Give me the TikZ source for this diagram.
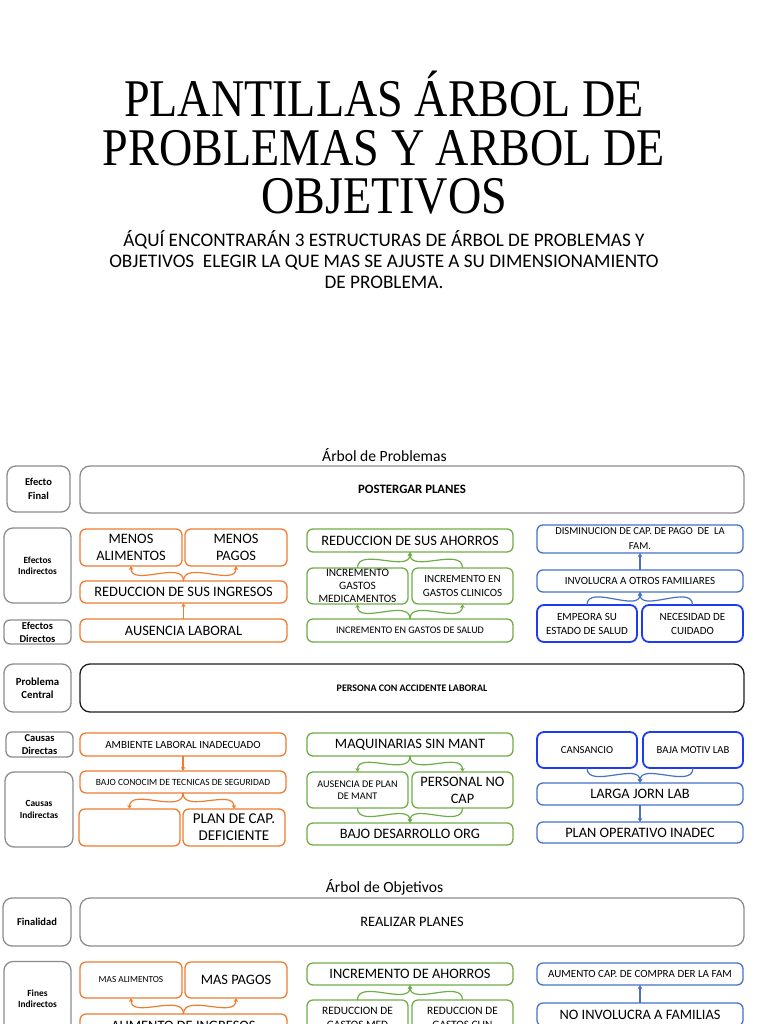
\documentclass[tikz,border=0pt]{standalone}
\usepackage{fontspec}
\setmainfont{Carlito}
\newfontfamily\titlefont[FakeStretch=0.87]{Liberation Serif}
\usetikzlibrary{arrows.meta}
\definecolor{org}{HTML}{ED7D31}
\definecolor{grn}{HTML}{70AD47}
\definecolor{blu}{HTML}{4472C4}
\definecolor{bblu}{HTML}{1E3CF0}
\definecolor{lgray}{HTML}{8C8C8C}
\definecolor{dgray}{HTML}{1E1E1E}
\begin{document}
\begin{tikzpicture}[x=1pt,y=-1pt,
  every node/.style={inner sep=0pt, outer sep=0pt, align=center},
  lab/.style={draw=lgray, rounded corners=9pt, line width=1.3pt},
  big/.style={draw=lgray, rounded corners=10pt, line width=1.3pt, minimum width=664pt},
  ob/.style={draw=org, rounded corners=6pt, line width=1.3pt},
  gb/.style={draw=grn, rounded corners=6pt, line width=1.3pt},
  bb/.style={draw=blu, rounded corners=6pt, line width=1.3pt},
  bbb/.style={draw=bblu, rounded corners=7pt, line width=1.8pt},
  half/.style={minimum width=101pt, minimum height=36pt},
  full/.style={minimum width=206pt, minimum height=22pt},
  fA/.style={font=\fontsize{14.4}{17}\selectfont},
  fS/.style={font=\fontsize{11}{14}\selectfont},
  fL/.style={font=\bfseries\fontsize{9.4}{11}\selectfont},
  fM/.style={font=\bfseries\fontsize{10.5}{13}\selectfont},
  arr/.style={line width=1.2pt, -{Stealth[length=4pt,width=4.5pt]}},
]
\clip (0,0) rectangle (768,1024);
\fill[white] (0,0) rectangle (768,1024);

% ---------- title ----------
\node[font=\titlefont\fontsize{53}{53}\selectfont, anchor=base] (t1) at (384,117) {PLANTILLAS ÁRBOL DE};
\node[font=\titlefont\fontsize{53}{53}\selectfont, anchor=base] (t2) at (384,165.5) {PROBLEMAS Y ARBOL DE};
\node[font=\titlefont\fontsize{53}{53}\selectfont, anchor=base] (t3) at (384,214) {OBJETIVOS};
\node[font=\fontsize{19.2}{21}\selectfont, anchor=base] (s1) at (384,246.5) {ÁQUÍ ENCONTRARÁN 3 ESTRUCTURAS DE ÁRBOL DE PROBLEMAS Y};
\node[font=\fontsize{19.2}{21}\selectfont, anchor=base] (s2) at (384,267) {OBJETIVOS\ \ ELEGIR LA QUE MAS SE AJUSTE A SU DIMENSIONAMIENTO};
\node[font=\fontsize{19.2}{21}\selectfont, anchor=base] (s3) at (384,288) {DE PROBLEMA.};

% ---------- Arbol de Problemas ----------
\node[font=\fontsize{15.6}{18}\selectfont] (hp) at (384.5,455) {Árbol de Problemas};

\node[lab, minimum width=63pt, minimum height=46pt, font=\bfseries\fontsize{10.5}{14}\selectfont] (lEF) at (38.5,489) {Efecto\\Final};
\node[lab, minimum width=67pt, minimum height=75pt, fL] (lEI) at (37.5,565.5) {Efectos\\Indirectos};
\node[lab, rounded corners=6pt, minimum width=67pt, minimum height=24pt, fM] (lED) at (37.5,632) {Efectos\\Directos};
\node[lab, minimum width=67pt, minimum height=48pt, font=\bfseries\fontsize{10.8}{12.5}\selectfont] (lPC) at (37.5,688) {Problema\\Central};
\node[lab, rounded corners=6pt, minimum width=67pt, minimum height=25pt, fM] (lCD) at (39.5,744.5) {Causas\\Directas};
\node[lab, minimum width=68pt, minimum height=75pt, font=\bfseries\fontsize{9.4}{12}\selectfont] (lCI) at (39,809.5) {Causas\\Indirectas};

\node[big, minimum height=47pt, font=\bfseries\fontsize{12.8}{15}\selectfont] (bEF) at (412,489.5) {POSTERGAR PLANES};
\node[big, draw=dgray, minimum height=48pt, font=\bfseries\fontsize{10}{12}\selectfont] (bPC) at (412,688) {PERSONA CON ACCIDENTE LABORAL};

% effects - orange
\node[ob, minimum width=102pt, minimum height=37pt, fA] (oMA) at (131,547.5) {MENOS\\ALIMENTOS};
\node[ob, minimum width=102pt, minimum height=37pt, fA] (oMP) at (236,547.5) {MENOS\\PAGOS};
\node[ob, full, minimum width=207pt, fA] (oRI) at (183.5,592) {REDUCCION DE SUS INGRESOS};
\node[ob, full, minimum width=207pt, minimum height=23pt, fA] (oAL) at (183.5,630.5) {AUSENCIA LABORAL};
\draw[org, arr] (oRI.north) to[out=90,in=-90] (oMA.south);
\draw[org, arr] (oRI.north) to[out=90,in=-90] (oMP.south);
\draw[org, arr] (oAL.north) -- (oRI.south);

% effects - green
\node[gb, full, minimum height=23pt, fA] (gRA) at (410,540.5) {REDUCCION DE SUS AHORROS};
\node[gb, half, font=\fontsize{11.3}{13}\selectfont] (gGM) at (357.5,586) {INCREMENTO\\GASTOS\\MEDICAMENTOS};
\node[gb, half, fS] (gGC) at (462.5,586) {INCREMENTO EN\\GASTOS CLINICOS};
\node[gb, full, minimum height=23pt, font=\fontsize{10.1}{12}\selectfont] (gGS) at (410,630.5) {INCREMENTO EN GASTOS DE SALUD};
\draw[grn, arr] (gGM.north) to[out=90,in=-90] (gRA.south);
\draw[grn, arr] (gGC.north) to[out=90,in=-90] (gRA.south);
\draw[grn, arr] (gGS.north) to[out=90,in=-90] (gGM.south);
\draw[grn, arr] (gGS.north) to[out=90,in=-90] (gGC.south);

% effects - blue
\node[bb, full, minimum height=28pt, font=\fontsize{10.6}{15}\selectfont] (bDC) at (640,539) {DISMINUCION DE CAP. DE PAGO\ \ DE\ \ LA\\FAM.};
\node[bb, full, font=\fontsize{11}{13}\selectfont] (bIO) at (640,581) {INVOLUCRA A OTROS FAMILIARES};
\node[bbb, minimum width=100pt, minimum height=37pt, fS] (bES) at (587,623.5) {EMPEORA SU\\ESTADO DE SALUD};
\node[bbb, minimum width=101pt, minimum height=37pt, fS] (bNC) at (692.5,623.5) {NECESIDAD DE\\CUIDADO};
\draw[blu, arr] (bIO.north) -- (bDC.south);
\draw[blu, arr] (bES.north) to[out=90,in=-90] (bIO.south);
\draw[blu, arr] (bNC.north) to[out=90,in=-90] (bIO.south);

% causes - orange
\node[ob, full, minimum height=23pt, font=\fontsize{11}{13}\selectfont] (oAI) at (183,744.5) {AMBIENTE LABORAL INADECUADO};
\node[ob, full, font=\fontsize{9.5}{11}\selectfont] (oBC) at (183,782) {BAJO CONOCIM DE TECNICAS DE SEGURIDAD};
\node[ob, half, minimum height=37pt] (oE) at (129.5,827.5) {};
\node[ob, minimum width=102pt, minimum height=37pt, font=\fontsize{15}{17}\selectfont] (oPC) at (234,827.5) {PLAN DE CAP.\\DEFICIENTE};
\draw[org, arr] (oAI.south) -- (oBC.north);
\draw[org, arr] (oBC.south) to[out=-90,in=90] (oE.north);
\draw[org, arr] (oBC.south) to[out=-90,in=90] (oPC.north);

% causes - green
\node[gb, full, minimum height=23pt, fA] (gMS) at (410,744.5) {MAQUINARIAS SIN MANT};
\node[gb, half, font=\fontsize{10.2}{11.5}\selectfont] (gAP) at (357.5,790) {AUSENCIA DE PLAN\\DE MANT};
\node[gb, half, fA] (gPN) at (462.5,790) {PERSONAL NO\\CAP};
\node[gb, full, fA] (gDO) at (410,834) {BAJO DESARROLLO ORG};
\draw[grn, arr] (gMS.south) to[out=-90,in=90] (gAP.north);
\draw[grn, arr] (gMS.south) to[out=-90,in=90] (gPN.north);
\draw[grn, arr] (gAP.south) to[out=-90,in=90] (gDO.north);
\draw[grn, arr] (gPN.south) to[out=-90,in=90] (gDO.north);

% causes - blue
\node[bbb, minimum width=100pt, minimum height=36pt, font=\fontsize{10.7}{13}\selectfont] (bCA) at (587,750) {CANSANCIO};
\node[bbb, minimum width=100pt, minimum height=36pt, font=\fontsize{10.7}{13}\selectfont] (bBM) at (693,750) {BAJA MOTIV LAB};
\node[bb, full, fA] (bLJ) at (640,794) {LARGA JORN LAB};
\node[bb, full, minimum height=21pt, fA] (bPO) at (640,832.5) {PLAN OPERATIVO INADEC};
\draw[blu, arr] (bCA.south) to[out=-90,in=90] (bLJ.north);
\draw[blu, arr] (bBM.south) to[out=-90,in=90] (bLJ.north);
\draw[blu, arr] (bLJ.south) -- (bPO.north);

% ---------- Arbol de Objetivos ----------
\node[font=\fontsize{15.6}{18}\selectfont] (ho) at (384.5,887) {Árbol de Objetivos};

\node[lab, minimum width=68pt, minimum height=48pt, fM] (lFin) at (37,922) {Finalidad};
\node[lab, minimum width=67pt, minimum height=75pt, fL] (lFI) at (37.5,999) {Fines\\Indirectos};

\node[big, minimum height=48pt, fA] (bFin) at (412,922) {REALIZAR PLANES};

\node[ob, minimum width=102pt, minimum height=36pt, font=\fontsize{9.3}{11}\selectfont] (oMAs) at (131,980) {MAS ALIMENTOS};
\node[ob, minimum width=102pt, minimum height=36pt, fA] (oMPs) at (236,980) {MAS PAGOS};
\node[ob, full, minimum width=207pt, minimum height=23pt, fA] (oAU) at (183.5,1025.5) {AUMENTO DE INGRESOS};
\draw[org, arr] (oAU.north) to[out=90,in=-90] (oMAs.south);
\draw[org, arr] (oAU.north) to[out=90,in=-90] (oMPs.south);

\node[gb, full, fA] (gIA) at (410,974) {INCREMENTO DE AHORROS};
\node[gb, half, font=\fontsize{11.3}{14}\selectfont] (gRM) at (357.5,1018) {REDUCCION DE\\GASTOS MED};
\node[gb, half, font=\fontsize{11.3}{14}\selectfont] (gRC) at (462.5,1018) {REDUCCION DE\\GASTOS CLIN};
\draw[grn, arr] (gRM.north) to[out=90,in=-90] (gIA.south);
\draw[grn, arr] (gRC.north) to[out=90,in=-90] (gIA.south);

\node[bb, full, font=\fontsize{11}{13}\selectfont] (bAC) at (640,974) {AUMENTO CAP. DE COMPRA DER LA FAM};
\node[bb, full, minimum height=23pt, fA] (bNI) at (640,1014.5) {NO INVOLUCRA A FAMILIAS};
\draw[blu, arr] (bNI.north) -- (bAC.south);
\end{tikzpicture}
\end{document}
